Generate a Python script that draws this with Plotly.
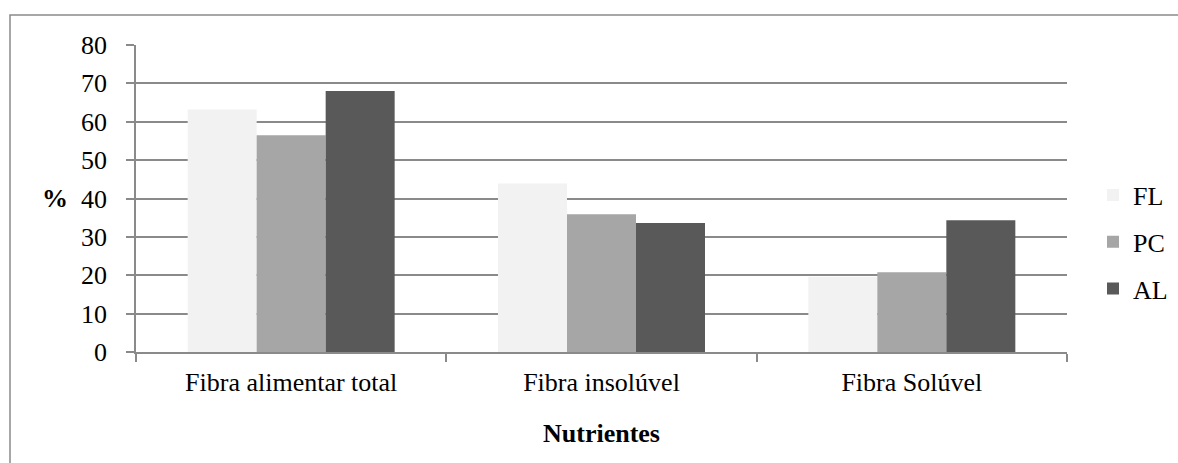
import plotly.graph_objects as go

# Nutrient fibre fractions (%) for each sample
categories = ["Fibra alimentar total", "Fibra insolúvel", "Fibra Solúvel"]
series_names = ["FL", "PC", "AL"]
fl_values = [63.2, 43.9, 19.6]
pc_values = [56.5, 35.9, 20.8]
al_values = [68.0, 33.6, 34.3]
y_ticks = [0, 10, 20, 30, 40, 50, 60, 70, 80]

colors = ["#f2f2f2", "#a6a6a6", "#595959"]
font_family = "Liberation Serif"
grid_color = "#8a8a8a"

W, H = 1178, 463
L, R, T, B = 136, 111, 45, 111
plot_w = W - L - R
plot_h = H - T - B

fig = go.Figure()
for name, vals, col in zip(series_names, [fl_values, pc_values, al_values], colors):
    fig.add_trace(go.Bar(
        x=categories, y=vals, name=name,
        marker=dict(color=col, line=dict(width=0)),
        legendgroup=name,
    ))

def px_x(px):
    return (px - L) / plot_w

def px_y(py):
    return (H - B - py) / plot_h

# outer chart frame
fig.add_shape(type="rect", xref="paper", yref="paper",
              x0=px_x(10), x1=px_x(1182), y0=px_y(470), y1=px_y(15),
              line=dict(color=grid_color, width=1.5), layer="below")

# horizontal y-axis title
fig.add_annotation(text="<b>%</b>", xref="paper", yref="paper",
                   x=px_x(55), y=px_y(198), showarrow=False,
                   xanchor="center", yanchor="middle",
                   font=dict(family=font_family, size=26, color="black"))

fig.update_layout(
    width=W, height=H,
    margin=dict(l=L, r=R, t=T, b=B, pad=0, autoexpand=False),
    paper_bgcolor="white", plot_bgcolor="white",
    barmode="group", bargap=0.333, bargroupgap=0,
    font=dict(family=font_family, size=26, color="black"),
    showlegend=True,
    legend=dict(
        x=px_x(1093), xanchor="left", y=px_y(242), yanchor="middle",
        font=dict(family=font_family, size=26), itemwidth=30,
        traceorder="grouped", tracegroupgap=10, bgcolor="rgba(0,0,0,0)",
    ),
    xaxis=dict(
        type="category", showgrid=False, showline=True,
        linecolor=grid_color, linewidth=1.5,
        ticks="outside", tickson="boundaries", ticklen=8,
        tickcolor=grid_color, tickwidth=1.5,
        tickfont=dict(family=font_family, size=26), ticklabelstandoff=6,
        title=dict(text="<b>Nutrientes</b>",
                   font=dict(family=font_family, size=26), standoff=28),
    ),
    yaxis=dict(
        range=[0, 80], tickvals=y_ticks, showgrid=True,
        gridcolor=grid_color, gridwidth=1.5,
        showline=True, linecolor=grid_color, linewidth=1.5,
        ticks="outside", ticklen=8, tickcolor=grid_color, tickwidth=1.5,
        tickfont=dict(family=font_family, size=26), ticklabelstandoff=14,
        zeroline=False,
    ),
)

fig.write_html("out.html")
